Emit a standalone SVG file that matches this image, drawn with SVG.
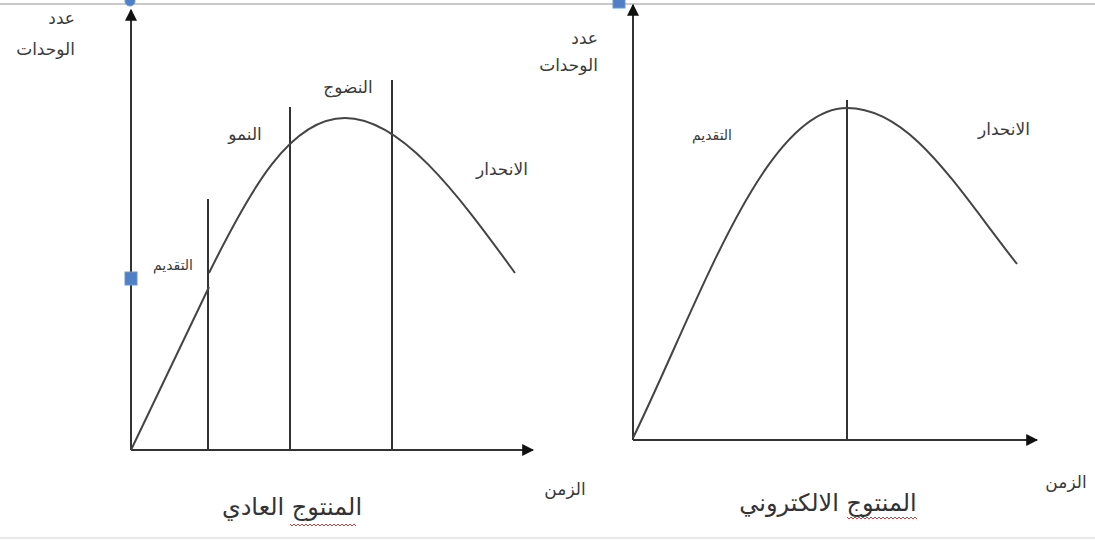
<svg xmlns="http://www.w3.org/2000/svg" width="1095" height="541" viewBox="0 0 1095 541">
<defs>
<style>
.ax{stroke:#333;stroke-width:2;fill:none}
.cv{stroke:#444;stroke-width:2;fill:none}
.t{font-family:"DejaVu Sans","Noto Sans",sans-serif;font-size:17px;fill:#3a3a3a}
.s{font-size:14px}
.ti{font-family:"DejaVu Sans","Noto Sans",sans-serif;font-size:24px;fill:#333}
.mk{fill:#4f7fc4;stroke:#6f93cc;stroke-width:1}
.sq{stroke:#d04040;stroke-width:1;fill:none}
</style>
<marker id="ah" viewBox="0 0 10 10" refX="9" refY="5" markerWidth="6" markerHeight="6" orient="auto" markerUnits="strokeWidth">
<path d="M0,0 L10,5 L0,10 z" fill="#111"/>
</marker>
</defs>
<rect width="1095" height="541" fill="#fff"/>
<line x1="0" y1="4" x2="1095" y2="4" stroke="#c8c8c8" stroke-width="2"/>
<line x1="0" y1="538" x2="1095" y2="538" stroke="#e0e0e0" stroke-width="1.5"/>

<g id="connectors">
<line class="ax" x1="131" y1="450" x2="131" y2="10" marker-end="url(#ah)"/>
<line class="ax" x1="131" y1="450" x2="533" y2="450" marker-end="url(#ah)"/>
<line class="ax" x1="633" y1="440" x2="633" y2="5" marker-end="url(#ah)"/>
<line class="ax" x1="633" y1="440" x2="1037" y2="440" marker-end="url(#ah)"/>
<line class="ax" x1="208" y1="199" x2="208" y2="450"/>
<line class="ax" x1="290" y1="107" x2="290" y2="450"/>
<line class="ax" x1="392" y1="80" x2="392" y2="450"/>
<line class="ax" x1="847" y1="100" x2="847" y2="440"/>
<path class="cv" d="M131,450 L209,287"/>
<path class="cv" d="M209,273 C250,190 290,118 345,118 C400,118 455,190 515,273"/>
<path class="cv" d="M633,438 C700,300 765,108 847,108 C910,108 955,185 1017,264"/>
</g>

<g id="markers">
<circle class="mk" cx="130" cy="1" r="5"/>
<rect class="mk" x="125" y="272" width="12" height="13"/>
<rect class="mk" x="613" y="-2" width="12" height="10"/>
</g>

<g id="left-labels">
<text class="t" x="75" y="24" text-anchor="end">عدد</text>
<text class="t" x="75" y="55" text-anchor="end">الوحدات</text>
<text class="t s" x="173" y="270" text-anchor="middle">التقديم</text>
<text class="t" x="245" y="140" text-anchor="middle">النمو</text>
<text class="t" x="348" y="93" text-anchor="middle">النضوج</text>
<text class="t" x="502" y="175" text-anchor="middle">الانحدار</text>
<text class="t" x="565" y="495" text-anchor="middle">الزمن</text>
<text class="ti" x="292" y="515" text-anchor="middle">المنتوج العادي</text>
<path class="sq" d="M290,524 l2,2 l2,-2 l2,2 l2,-2 l2,2 l2,-2 l2,2 l2,-2 l2,2 l2,-2 l2,2 l2,-2 l2,2 l2,-2 l2,2 l2,-2 l2,2 l2,-2 l2,2 l2,-2 l2,2 l2,-2 l2,2 l2,-2 l2,2 l2,-2 l2,2 l2,-2 l2,2 l2,-2 l2,2 l2,-2 l2,2"/>
</g>

<g id="right-labels">
<text class="t" x="598" y="44" text-anchor="end">عدد</text>
<text class="t" x="598" y="71" text-anchor="end">الوحدات</text>
<text class="t s" x="712" y="140" text-anchor="middle">التقديم</text>
<text class="t" x="1004" y="135" text-anchor="middle">الانحدار</text>
<text class="t" x="1066" y="488" text-anchor="middle">الزمن</text>
<text class="ti" x="828" y="511" text-anchor="middle">المنتوج الالكتروني</text>
<path class="sq" d="M847,517 l2,2 l2,-2 l2,2 l2,-2 l2,2 l2,-2 l2,2 l2,-2 l2,2 l2,-2 l2,2 l2,-2 l2,2 l2,-2 l2,2 l2,-2 l2,2 l2,-2 l2,2 l2,-2 l2,2 l2,-2 l2,2 l2,-2 l2,2 l2,-2 l2,2 l2,-2 l2,2 l2,-2 l2,2 l2,-2 l2,2 l2,-2 l2,2"/>
</g>
</svg>
